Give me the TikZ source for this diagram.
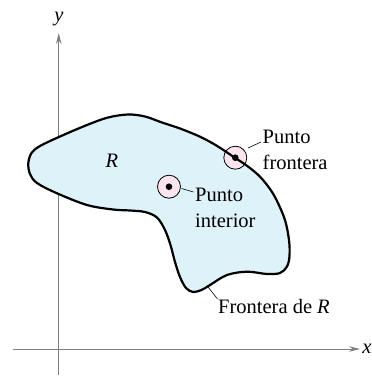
\documentclass[tikz,border=0pt]{standalone}
\usepackage{fontspec}
\setmainfont{Liberation Serif}
\usetikzlibrary{arrows.meta}
\definecolor{regionfill}{RGB}{222,242,250}
\definecolor{ptfill}{RGB}{252,228,238}
\definecolor{axisgray}{RGB}{128,128,128}
\begin{document}
\begin{tikzpicture}[x=1pt,y=1pt,
  axisline/.style={draw=axisgray,line width=0.9pt,-{Stealth[length=11pt,width=5.5pt]}},
  lbl/.style={font=\fontsize{20.5}{26}\selectfont,inner sep=0pt},
  leader/.style={draw=black,line width=0.6pt},
  ring/.style={draw=black,line width=0.8pt,fill=ptfill},
  dotmark/.style={fill=black}]
\useasboundingbox (0,0) rectangle (372,-378);
% axes
\coordinate (xs) at (13,-349);
\coordinate (xe) at (360,-349);
\coordinate (ys) at (58.7,-375);
\coordinate (ye) at (58.7,-33);
\draw[axisline] (xs) -- (xe);
\draw[axisline] (ys) -- (ye);
\node[lbl,font=\fontsize{20.5}{26}\selectfont\itshape] (xl) at (367,-349) {x};
\node[lbl,font=\fontsize{20.5}{26}\selectfont\itshape] (yl) at (59,-19) {y};
% region
\def\blob{plot[smooth cycle,tension=0.55] coordinates {
 (28.3,-163.3) (31.5,-153) (40,-146) (60,-136.5) (87,-125) (108,-117.5)
 (128,-114.5) (145,-116.5) (162,-122.5) (180,-128.5) (200,-136.7) (216.7,-145.7)
 (233.3,-156.7) (248,-166.5) (260,-176.7) (270,-189) (277,-201) (285,-220)
 (289,-240) (289.5,-256) (287,-266.5) (280,-273) (267,-274) (247,-271.7)
 (227,-275) (210,-285) (201.5,-290) (193,-292) (186,-288) (180,-277)
 (175,-262) (170.5,-245) (165,-230) (157,-217.5) (145,-212) (130,-210.5)
 (113,-209.5) (87,-205) (57,-193.3) (37,-183) (30,-174)}}
\fill[regionfill] \blob;
% points
\node[ring,circle,minimum size=23pt,inner sep=0pt] (bp) at (235.3,-157.7) {};
\node[ring,circle,minimum size=23pt,inner sep=0pt] (ip) at (169,-186.7) {};
\draw[black,line width=2.2pt] \blob;
\fill[dotmark] (bp.center) circle (3.3pt);
\fill[dotmark] (ip.center) circle (3.3pt);
% labels
\node[lbl,anchor=north west,align=left] (bpl) at (262.5,-130) {Punto\\frontera};
\node[lbl,anchor=north west,align=left] (ipl) at (195,-187.5) {Punto\\interior};
\node[lbl,anchor=base west] (fr) at (218,-313) {Frontera de \textit{R}};
\node[lbl,anchor=base,font=\fontsize{20.5}{26}\selectfont\itshape] (rl) at (112,-167) {R};
% leaders
\coordinate (b1) at (248,-148);
\coordinate (b2) at (261,-142);
\coordinate (i1) at (181.5,-188.5);
\coordinate (i2) at (193.5,-192);
\coordinate (f1) at (208,-287);
\coordinate (f2) at (217.5,-299);
\draw[leader] (b1) -- (b2);
\draw[leader] (i1) -- (i2);
\draw[leader] (f1) -- (f2);
\end{tikzpicture}
\end{document}
